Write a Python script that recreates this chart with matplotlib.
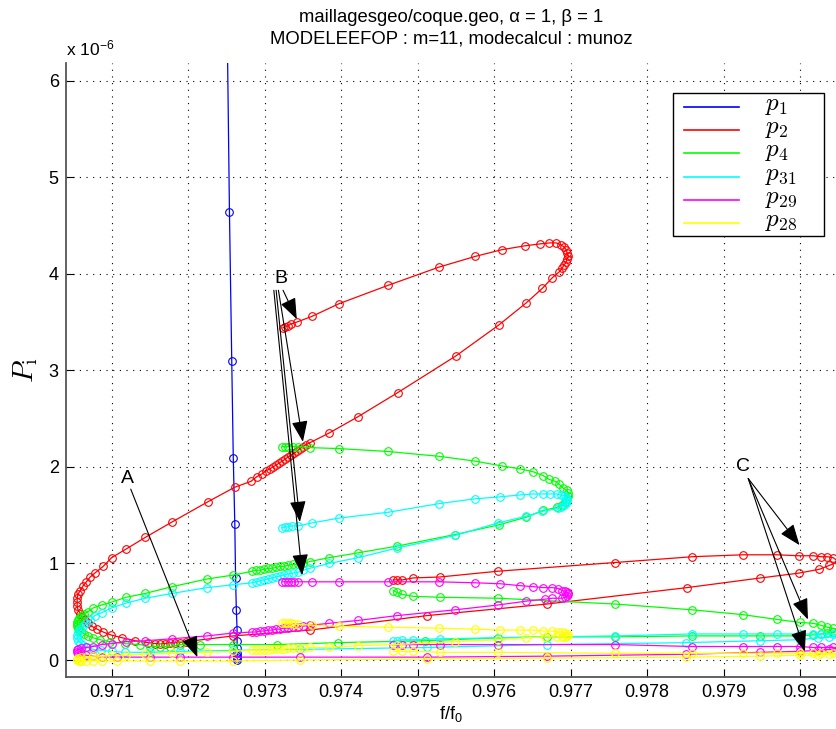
import matplotlib
matplotlib.use("Agg")
import matplotlib.pyplot as plt
from matplotlib.lines import Line2D
from matplotlib.patches import Rectangle
import numpy as np

plt.rcParams['font.family'] = ['Liberation Sans', 'DejaVu Sans']
plt.rcParams['mathtext.fontset'] = 'cm'

# P_i values are in units of 1e-6 (shown as "x 10^-6" on the axis)
p1 = [(0.97251, 6.60), (0.97254, 4.64), (0.97257, 3.10), (0.97259, 2.09), (0.97261, 1.41),
      (0.97262, 0.85), (0.97263, 0.52), (0.97264, 0.31), (0.97264, 0.20), (0.97264, 0.12),
      (0.97264, 0.07), (0.97264, 0.04), (0.97264, 0.02), (0.97264, 0.00)]

p2 = [(0.97324, 3.44), (0.97327, 3.45), (0.97330, 3.46), (0.97334, 3.48), (0.97342, 3.50),
      (0.97362, 3.56), (0.97397, 3.69), (0.97461, 3.88), (0.97528, 4.07), (0.97575, 4.18),
      (0.97610, 4.25), (0.97640, 4.29), (0.97660, 4.31), (0.97672, 4.32), (0.97681, 4.32),
      (0.97687, 4.30), (0.97691, 4.28), (0.97694, 4.25), (0.97695, 4.22), (0.97697, 4.18),
      (0.97695, 4.15), (0.97694, 4.12), (0.97691, 4.09), (0.97689, 4.06), (0.97685, 4.02),
      (0.97676, 3.96), (0.97663, 3.85), (0.97642, 3.70), (0.97606, 3.47), (0.97550, 3.15),
      (0.97474, 2.77), (0.97422, 2.52), (0.97384, 2.35), (0.97359, 2.25), (0.97354, 2.23),
      (0.97350, 2.21), (0.97346, 2.19), (0.97342, 2.16), (0.97338, 2.14), (0.97334, 2.12),
      (0.97330, 2.10), (0.97327, 2.08), (0.97323, 2.06), (0.97319, 2.04), (0.97315, 2.02),
      (0.97311, 2.00), (0.97307, 1.98), (0.97302, 1.96), (0.97297, 1.93), (0.97290, 1.90),
      (0.97282, 1.85), (0.97261, 1.79), (0.97226, 1.64), (0.97179, 1.43), (0.97144, 1.27),
      (0.97119, 1.15), (0.97100, 1.06), (0.97089, 0.97), (0.97078, 0.90), (0.97072, 0.86),
      (0.97067, 0.81), (0.97063, 0.77), (0.97059, 0.72), (0.97056, 0.68), (0.97055, 0.64),
      (0.97055, 0.60), (0.97055, 0.56), (0.97056, 0.52), (0.97059, 0.48), (0.97061, 0.45),
      (0.97065, 0.41), (0.97069, 0.38), (0.97074, 0.35), (0.97081, 0.32), (0.97089, 0.29),
      (0.97099, 0.26), (0.97114, 0.23), (0.97131, 0.20), (0.97148, 0.18), (0.97157, 0.17),
      (0.97163, 0.17), (0.97170, 0.17), (0.97176, 0.18), (0.97183, 0.18), (0.97189, 0.18),
      (0.97197, 0.19), (0.97259, 0.25), (0.97359, 0.31), (0.97512, 0.46), (0.97669, 0.58),
      (0.97852, 0.75), (0.97948, 0.85), (0.97998, 0.90), (0.98025, 0.94), (0.98038, 0.98),
      (0.98050, 1.02), (0.98043, 1.06), (0.98035, 1.07), (0.98027, 1.07), (0.98017, 1.08),
      (0.97998, 1.08), (0.97970, 1.09), (0.97925, 1.09), (0.97859, 1.07), (0.97758, 1.01),
      (0.97605, 0.92), (0.97529, 0.86), (0.97494, 0.85), (0.97480, 0.83), (0.97473, 0.83),
      (0.97468, 0.83)]

p4 = [(0.97323, 2.21), (0.97327, 2.21), (0.97330, 2.21), (0.97337, 2.21), (0.97344, 2.21),
      (0.97359, 2.20), (0.97397, 2.19), (0.97461, 2.16), (0.97528, 2.11), (0.97575, 2.06),
      (0.97610, 2.01), (0.97634, 1.98), (0.97651, 1.95), (0.97664, 1.91), (0.97672, 1.87),
      (0.97680, 1.85), (0.97685, 1.82), (0.97690, 1.78), (0.97695, 1.76), (0.97697, 1.73),
      (0.97697, 1.70), (0.97695, 1.67), (0.97693, 1.64), (0.97689, 1.61), (0.97682, 1.58),
      (0.97664, 1.55), (0.97642, 1.48), (0.97606, 1.40), (0.97549, 1.30), (0.97473, 1.18),
      (0.97422, 1.11), (0.97384, 1.06), (0.97359, 1.02), (0.97350, 1.00), (0.97344, 0.99),
      (0.97337, 0.99), (0.97330, 0.98), (0.97325, 0.97), (0.97320, 0.97), (0.97315, 0.96),
      (0.97310, 0.95), (0.97305, 0.95), (0.97299, 0.94), (0.97294, 0.93), (0.97289, 0.93),
      (0.97284, 0.92), (0.97259, 0.88), (0.97225, 0.84), (0.97179, 0.76), (0.97144, 0.69),
      (0.97119, 0.65), (0.97100, 0.60), (0.97087, 0.57), (0.97076, 0.54), (0.97069, 0.50),
      (0.97064, 0.48), (0.97060, 0.46), (0.97057, 0.44), (0.97056, 0.41), (0.97055, 0.39),
      (0.97055, 0.37), (0.97055, 0.35), (0.97056, 0.33), (0.97057, 0.31), (0.97060, 0.29),
      (0.97064, 0.27), (0.97069, 0.25), (0.97076, 0.23), (0.97085, 0.21), (0.97098, 0.19),
      (0.97117, 0.17), (0.97137, 0.16), (0.97150, 0.14), (0.97163, 0.14), (0.97176, 0.14),
      (0.97189, 0.16), (0.97215, 0.16), (0.97259, 0.16), (0.97316, 0.16), (0.97396, 0.18),
      (0.97510, 0.20), (0.97605, 0.23), (0.97669, 0.24), (0.97758, 0.24), (0.97859, 0.25),
      (0.97948, 0.25), (0.97999, 0.25), (0.98017, 0.26), (0.98027, 0.27), (0.98035, 0.28),
      (0.98043, 0.29), (0.98051, 0.31), (0.98043, 0.33), (0.98035, 0.34), (0.98027, 0.36),
      (0.98017, 0.38), (0.97999, 0.39), (0.97970, 0.42), (0.97925, 0.47), (0.97859, 0.52),
      (0.97758, 0.58), (0.97605, 0.64), (0.97529, 0.65), (0.97494, 0.66), (0.97480, 0.68),
      (0.97473, 0.70), (0.97468, 0.72)]

p31 = [(0.97323, 1.37), (0.97327, 1.38), (0.97331, 1.38), (0.97336, 1.39), (0.97344, 1.39),
       (0.97362, 1.42), (0.97397, 1.47), (0.97461, 1.53), (0.97528, 1.62), (0.97575, 1.67),
       (0.97608, 1.69), (0.97634, 1.71), (0.97651, 1.72), (0.97664, 1.72), (0.97673, 1.72),
       (0.97682, 1.72), (0.97687, 1.71), (0.97691, 1.70), (0.97694, 1.69), (0.97695, 1.67),
       (0.97695, 1.65), (0.97694, 1.63), (0.97691, 1.61), (0.97687, 1.58), (0.97684, 1.57),
       (0.97663, 1.54), (0.97642, 1.49), (0.97605, 1.42), (0.97549, 1.29), (0.97473, 1.16),
       (0.97422, 1.06), (0.97384, 1.00), (0.97359, 0.95), (0.97350, 0.93), (0.97344, 0.91),
       (0.97337, 0.90), (0.97330, 0.89), (0.97325, 0.88), (0.97320, 0.87), (0.97315, 0.86),
       (0.97310, 0.85), (0.97305, 0.84), (0.97299, 0.83), (0.97294, 0.82), (0.97289, 0.81),
       (0.97284, 0.80), (0.97259, 0.78), (0.97225, 0.75), (0.97179, 0.69), (0.97144, 0.64),
       (0.97119, 0.59), (0.97100, 0.54), (0.97087, 0.49), (0.97078, 0.46), (0.97072, 0.41),
       (0.97067, 0.38), (0.97063, 0.35), (0.97059, 0.32), (0.97056, 0.29), (0.97055, 0.26),
       (0.97055, 0.23), (0.97056, 0.20), (0.97059, 0.18), (0.97063, 0.16), (0.97068, 0.13),
       (0.97076, 0.11), (0.97086, 0.10), (0.97100, 0.09), (0.97117, 0.08), (0.97150, 0.08),
       (0.97189, 0.09), (0.97259, 0.10), (0.97346, 0.11), (0.97512, 0.13), (0.97669, 0.16),
       (0.97851, 0.18), (0.97948, 0.20), (0.97999, 0.21), (0.98023, 0.23), (0.98038, 0.24),
       (0.98051, 0.25), (0.98043, 0.27), (0.98027, 0.27), (0.98017, 0.27), (0.97999, 0.27),
       (0.97970, 0.27), (0.97925, 0.27), (0.97859, 0.27), (0.97758, 0.25), (0.97605, 0.23),
       (0.97529, 0.22), (0.97494, 0.21), (0.97480, 0.21), (0.97473, 0.20), (0.97468, 0.20)]

p29 = [(0.97323, 0.81), (0.97327, 0.81), (0.97330, 0.81), (0.97334, 0.81), (0.97338, 0.81),
       (0.97344, 0.81), (0.97362, 0.81), (0.97397, 0.81), (0.97461, 0.81), (0.97528, 0.81),
       (0.97575, 0.80), (0.97608, 0.79), (0.97634, 0.77), (0.97651, 0.76), (0.97664, 0.75),
       (0.97676, 0.75), (0.97684, 0.74), (0.97689, 0.72), (0.97693, 0.71), (0.97695, 0.70),
       (0.97697, 0.69), (0.97697, 0.68), (0.97695, 0.66), (0.97693, 0.65), (0.97689, 0.64),
       (0.97676, 0.64), (0.97666, 0.63), (0.97642, 0.61), (0.97605, 0.57), (0.97549, 0.52),
       (0.97473, 0.46), (0.97422, 0.41), (0.97384, 0.38), (0.97359, 0.36), (0.97350, 0.35),
       (0.97344, 0.34), (0.97337, 0.34), (0.97330, 0.33), (0.97325, 0.33), (0.97320, 0.32),
       (0.97315, 0.32), (0.97310, 0.31), (0.97305, 0.31), (0.97299, 0.30), (0.97294, 0.30),
       (0.97289, 0.29), (0.97284, 0.29), (0.97259, 0.28), (0.97225, 0.25), (0.97179, 0.22),
       (0.97144, 0.20), (0.97119, 0.19), (0.97100, 0.17), (0.97087, 0.16), (0.97076, 0.14),
       (0.97067, 0.13), (0.97060, 0.12), (0.97056, 0.11), (0.97055, 0.10), (0.97055, 0.08),
       (0.97056, 0.07), (0.97060, 0.06), (0.97067, 0.05), (0.97076, 0.04), (0.97087, 0.03),
       (0.97107, 0.03), (0.97150, 0.03), (0.97189, 0.03), (0.97259, 0.03), (0.97346, 0.03),
       (0.97512, 0.03), (0.97669, 0.04), (0.97851, 0.06), (0.97948, 0.08), (0.97999, 0.09),
       (0.98023, 0.10), (0.98038, 0.11), (0.98051, 0.12), (0.98043, 0.13), (0.98027, 0.13),
       (0.98017, 0.13), (0.97999, 0.14), (0.97970, 0.14), (0.97925, 0.14), (0.97859, 0.14),
       (0.97758, 0.16), (0.97605, 0.16), (0.97529, 0.16), (0.97494, 0.16), (0.97480, 0.16),
       (0.97468, 0.16)]

p28 = [(0.97323, 0.38), (0.97327, 0.38), (0.97330, 0.38), (0.97334, 0.38), (0.97338, 0.37),
       (0.97344, 0.37), (0.97362, 0.36), (0.97397, 0.35), (0.97461, 0.34), (0.97528, 0.33),
       (0.97575, 0.32), (0.97608, 0.31), (0.97634, 0.31), (0.97651, 0.31), (0.97664, 0.30),
       (0.97676, 0.30), (0.97684, 0.29), (0.97689, 0.29), (0.97693, 0.28), (0.97695, 0.27),
       (0.97697, 0.26), (0.97695, 0.25), (0.97693, 0.24), (0.97689, 0.24), (0.97682, 0.24),
       (0.97666, 0.24), (0.97642, 0.23), (0.97605, 0.21), (0.97549, 0.19), (0.97473, 0.16),
       (0.97422, 0.15), (0.97384, 0.13), (0.97359, 0.13), (0.97350, 0.12), (0.97344, 0.12),
       (0.97337, 0.12), (0.97330, 0.12), (0.97325, 0.11), (0.97320, 0.11), (0.97315, 0.11),
       (0.97310, 0.11), (0.97305, 0.10), (0.97299, 0.10), (0.97294, 0.10), (0.97289, 0.10),
       (0.97284, 0.10), (0.97259, 0.09), (0.97225, 0.08), (0.97179, 0.07), (0.97144, 0.06),
       (0.97119, 0.05), (0.97100, 0.05), (0.97087, 0.04), (0.97076, 0.04), (0.97067, 0.03),
       (0.97060, 0.03), (0.97056, 0.02), (0.97055, 0.01), (0.97055, 0.00), (0.97057, -0.01),
       (0.97060, -0.01), (0.97067, -0.01), (0.97076, -0.01), (0.97087, -0.01), (0.97107, -0.01),
       (0.97150, -0.01), (0.97189, -0.01), (0.97259, -0.01), (0.97346, 0.00), (0.97512, 0.01),
       (0.97669, 0.02), (0.97851, 0.03), (0.97948, 0.04), (0.97999, 0.05), (0.98023, 0.05),
       (0.98038, 0.06), (0.98051, 0.06), (0.98043, 0.07), (0.98027, 0.07), (0.98017, 0.07),
       (0.97999, 0.07), (0.97970, 0.07), (0.97925, 0.07), (0.97859, 0.07), (0.97758, 0.07),
       (0.97605, 0.08), (0.97529, 0.08), (0.97494, 0.09), (0.97480, 0.09), (0.97468, 0.09)]

series = [(p1, '#0000ff', r'$p_{1}$'), (p2, '#ff0000', r'$p_{2}$'), (p4, '#00ff00', r'$p_{4}$'),
          (p31, '#00ffff', r'$p_{31}$'), (p29, '#ff00ff', r'$p_{29}$'), (p28, '#ffff00', r'$p_{28}$')]

# annotation label positions and arrow tips (tail, tip)
label_A = (0.97121, 1.885)
arrows_A = [((0.97125, 1.77), (0.97212, 0.03))]
label_B = (0.97321, 3.95)
arrows_B = [((0.97324, 3.83), (0.97342, 3.53)), ((0.97318, 3.83), (0.97350, 2.26)),
            ((0.97315, 3.83), (0.97346, 1.43)), ((0.97312, 3.83), (0.97349, 0.88))]
label_C = (0.97925, 2.00)
arrows_C = [((0.97932, 1.88), (0.97999, 1.19)), ((0.97932, 1.88), (0.98010, 0.42)),
            ((0.97932, 1.88), (0.98006, 0.09))]

xticks = [0.971, 0.972, 0.973, 0.974, 0.975, 0.976, 0.977, 0.978, 0.979, 0.980]
xticklabels = ['0.971', '0.972', '0.973', '0.974', '0.975', '0.976', '0.977', '0.978', '0.979', '0.98']
yticks = [0, 1, 2, 3, 4, 5, 6]

W, H = 837, 729
fig = plt.figure(figsize=(W / 100, H / 100), dpi=100)
ax = fig.add_axes([0.0785, 0.0717, 0.9215, 0.8422])

for pts, col, lab in series:
    arr = np.array(pts)
    ax.plot(arr[:, 0], arr[:, 1], color=col, lw=0.9, marker='o', ms=5.5, mfc='none', mew=0.8)

ax.set_xlim(0.97040, 0.98048)
ax.set_ylim(-0.173, 6.186)
ax.set_xticks(xticks)
ax.set_xticklabels(xticklabels)
ax.set_yticks(yticks)
ax.tick_params(direction='in', length=6, width=0.8, labelsize=13, pad=5)
ax.grid(True, color='k', linestyle=(0, (1, 5)), lw=0.8)
ax.spines['top'].set_visible(False)
ax.spines['right'].set_visible(False)
for s in ['left', 'bottom']:
    ax.spines[s].set_color('#555555')
    ax.spines[s].set_linewidth(1.3)

ax.set_xlabel(r'f/f$_{\mathregular{0}}$', fontsize=13, labelpad=3)
ax.set_ylabel(r'$P_{\mathrm{i}}$', fontsize=21, labelpad=6)
ax.set_title('maillagesgeo/coque.geo, \u03b1 = 1, \u03b2 = 1\nMODELEEFOP : m=11, modecalcul : munoz',
             fontsize=13.3, pad=14, linespacing=1.3)
fig.text(0.0785, 0.918, r'x 10$^{\mathregular{-6}}$', fontsize=12.5, va='bottom', ha='left')

aprops = dict(arrowstyle='-|>,head_length=1.3,head_width=0.5', color='k', lw=0.8,
              shrinkA=0, shrinkB=0, mutation_scale=10)
for lab, pos, arrs in [('A', label_A, arrows_A), ('B', label_B, arrows_B), ('C', label_C, arrows_C)]:
    ax.text(pos[0], pos[1], lab, fontsize=14, ha='center', va='center')
    for tail, tip in arrs:
        ax.annotate('', xy=tip, xytext=tail, arrowprops=aprops)

# legend box drawn by hand (MATLAB-style tight rows)
box_l, box_t, box_r, box_b = 673, 93, 824, 236
fig.add_artist(Rectangle((box_l / W, 1 - box_b / H), (box_r - box_l) / W, (box_b - box_t) / H,
                         transform=fig.transFigure, facecolor='white', edgecolor='k', lw=1.0,
                         zorder=5))
for i, (_, col, lab) in enumerate(series):
    yrow = 107 + i * 23.2
    fig.add_artist(Line2D([684 / W, 739 / W], [1 - yrow / H] * 2, color=col, lw=1.2,
                          transform=fig.transFigure, zorder=6))
    fig.text(765 / W, 1 - (yrow + 3) / H, lab, fontsize=18, ha='left', va='baseline', zorder=7)

fig.savefig('out.png', dpi=100)
